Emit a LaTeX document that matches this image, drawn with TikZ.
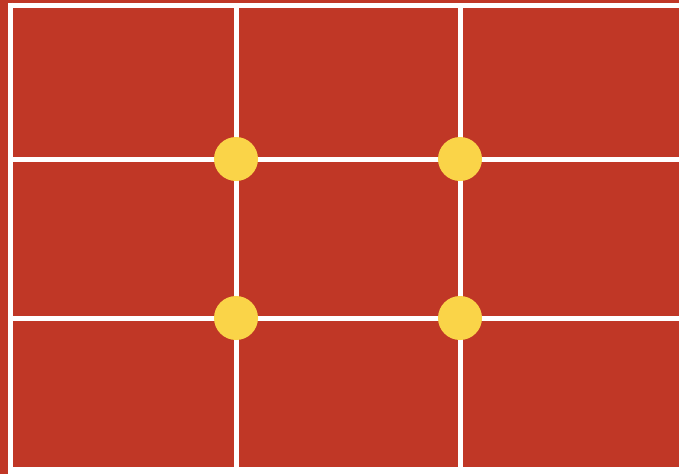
\documentclass[tikz,border=0pt]{standalone}
\definecolor{bgred}{RGB}{192,55,38}
\definecolor{dotyellow}{RGB}{250,212,72}
\begin{document}
\begin{tikzpicture}[x=1pt,y=-1pt,
  gridline/.style={draw=white,line width=5pt},
  dot/.style={circle,fill=dotyellow,inner sep=0pt,minimum size=44pt}]
\fill[bgred] (0,0) rectangle (679,474);
\useasboundingbox (0,0) rectangle (679,474);
% outer border
\draw[gridline] (10.5,5) -- (679,5);
\draw[gridline] (10.5,2.5) -- (10.5,474);
\fill[white] (8,467) rectangle (679,474);
% inner grid
\draw[gridline] (236,5) -- (236,470);
\draw[gridline] (460,5) -- (460,470);
\draw[gridline] (10.5,159) -- (679,159);
\draw[gridline] (10.5,318) -- (679,318);
% intersection dots
\node[dot] (d1) at (236,159) {};
\node[dot] (d2) at (460,159) {};
\node[dot] (d3) at (236,318) {};
\node[dot] (d4) at (460,318) {};
\end{tikzpicture}
\end{document}
